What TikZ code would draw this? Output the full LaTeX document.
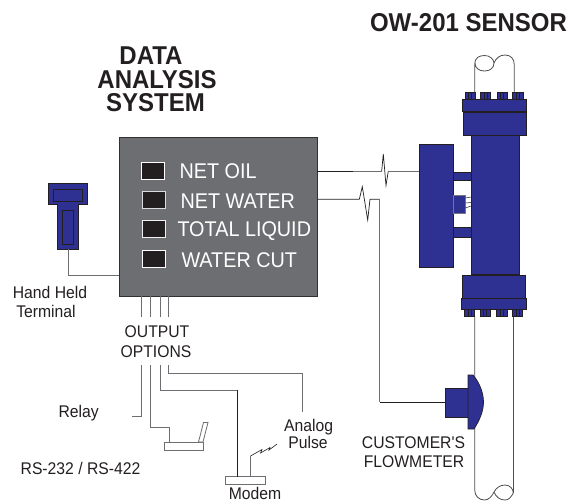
\documentclass[tikz,border=0pt]{standalone}
\usepackage{fontspec}
\setmainfont{Liberation Sans}
\newfontfamily\narrowf[FakeStretch=0.93]{Liberation Sans}
\definecolor{sblue}{HTML}{2E3192}
\definecolor{sgray}{HTML}{6D6E71}
\definecolor{sdark}{HTML}{231F20}
\definecolor{sedge}{HTML}{77777F}
\newcommand{\bx}[6]{\node[#6,minimum width={(#4)-(#2)},minimum height={(#5)-(#3)}] (#1) at ({((#2)+(#4))/2},{((#3)+(#5))/2}) {};}
\newcommand{\bolt}[5]{\bx{#1}{#2}{#3}{#4}{#5}{bluebox}
 \draw[boltline] ({(#2)+((#4)-(#2))/3},#3) -- ({(#2)+((#4)-(#2))/3},#5) ({(#2)+2*((#4)-(#2))/3},#3) -- ({(#2)+2*((#4)-(#2))/3},#5);}
\tikzset{
 box/.style={rectangle,inner sep=0pt,outer sep=0pt,line width=0.7pt},
 bluebox/.style={box,draw=sdark,fill=sblue},
 grayedge/.style={box,draw=sedge,fill=sblue},
 whitebox/.style={box,draw=sgray,fill=white,line width=0.8pt},
 lamp/.style={box,draw=white,fill=sdark,line width=0.7pt},
 boltline/.style={sdark,line width=0.6pt},
 wire/.style={sdark,line width=0.7pt},
 gwire/.style={sgray,line width=0.9pt},
 pipe/.style={sdark!80!white,line width=0.8pt},
 lbl/.style={inner sep=0pt,outer sep=0pt,text=sdark,font=\narrowf\fontsize{16.9}{18}\selectfont},
 title/.style={inner sep=0pt,outer sep=0pt,text=sdark,font=\narrowf\fontsize{25.8}{26}\selectfont\bfseries},
 read/.style={inner sep=0pt,outer sep=0pt,anchor=west,text=white,font=\narrowf\fontsize{21.3}{22}\selectfont}
}
\begin{document}
\begin{tikzpicture}[x=1pt,y=-1pt]
\useasboundingbox (0,0) rectangle (572,501);
% titles
\node[title] (tsensor) at (468.5,23) {OW-201 SENSOR};
\node[title] (tdata) at (151,56) {DATA};
\node[title] (tana) at (157,79.5) {ANALYSIS};
\node[title] (tsys) at (155.5,103) {SYSTEM};
% analysis box
\bx{unit}{119}{137}{317}{296}{box,draw=sdark!80!sgray,fill=sgray}
\bx{l1}{141.5}{162.5}{164.5}{179.5}{lamp}
\bx{l2}{142}{191}{165}{208}{lamp,draw=white!75!sgray}
\bx{l3}{142}{220.5}{165.5}{237}{lamp,draw=white!90!sgray}
\bx{l4}{142.5}{250}{165.5}{267}{lamp}
\node[read] (r1) at (179.5,171) {NET OIL};
\node[read] (r2) at (180.5,201) {NET WATER};
\node[read] (r3) at (177.5,231) {TOTAL LIQUID};
\node[read] (r4) at (181.5,260.5) {WATER CUT};
% terminal
\bx{thead}{48}{183.5}{87.5}{204}{bluebox}
\bx{tstem}{57.5}{204}{78.5}{249}{bluebox}
\fill[sblue] (58,202) rectangle (78,206);
\bx{tin1}{53.5}{189.5}{82.5}{201}{bluebox}
\bx{tin2}{62.5}{210}{73.5}{244}{bluebox}
\draw[gwire] (tstem.south) |- (unit.west |- 0,275);
\node[lbl] (hh1) at (50,292) {Hand Held};
\node[lbl] (hh2) at (46,311) {Terminal};
% output options
\node[lbl] (oo1) at (157,332) {OUTPUT};
\node[lbl] (oo2) at (156,352) {OPTIONS};
\foreach \n/\xx in {a/141.2,b/150,c/160,d/168}{
  \coordinate (o\n) at (\xx,317);
  \draw[gwire] (unit.south -| o\n) -- (o\n);
  \coordinate (p\n) at (\xx,365);
}
\coordinate (relayend) at (132,416);
\draw[gwire] (pa) |- (relayend);
\node[lbl] (relay) at (78.7,413.5) {Relay};
\bx{phone}{164.5}{442}{203}{450}{whitebox}
\draw[whitebox] (198.5,442) -- (203.5,422.5) -- (208,422.5) -- (203,442) -- cycle;
\coordinate (pb2) at (169.5,427);
\draw[gwire] (pb) |- (pb2) -- (pb2 |- phone.north);
\node[lbl] (rs) at (80.5,468) {RS-232 / RS-422};
\bx{modem}{225}{476.5}{265}{484}{whitebox}
\coordinate (pc2) at (237.5,390);
\draw[gwire] (pc) |- (pc2);
\draw[wire] (pc2) -- (pc2 |- modem.north);
\coordinate (pd2) at (302,373);
\coordinate (pd3) at (302,412);
\draw[gwire] (pd) |- (pd2) -- (pd3);
\coordinate (ant) at (250.5,456);
\draw[gwire] (ant |- modem.north) -- (ant);
\draw[sdark,line width=0.6pt] (ant) -- (262,449.5) -- (260.5,453) -- (270,447.5) -- (269,450) -- (277,444);
\node[lbl] (an) at (308.6,427.5) {Analog};
\node[lbl] (pu) at (308,442) {Pulse};
\node[lbl] (mo) at (255,493) {Modem};
\node[lbl] (cu) at (413.5,442.5) {CUSTOMER'S};
\node[lbl] (fl) at (414,461.5) {FLOWMETER};
% pipe
\draw[pipe] (474.7,92) -- (474.7,64)
  .. controls (474.7,58) and (479,55.5) .. (484.5,55.5)
  .. controls (490,55.5) and (493.5,59) .. (494,63)
  .. controls (494,68) and (490,71) .. (484.5,71)
  .. controls (479,71) and (475,68) .. (475,63);
\draw[pipe] (494,63) .. controls (496,58) and (500,55) .. (505,55)
  .. controls (511,55) and (514.3,59) .. (514.3,65) -- (514.3,92);
\draw[pipe] (474.7,316) -- (474.7,490)
  .. controls (474.7,496) and (479,500) .. (484.5,500)
  .. controls (489,500) and (492,496) .. (494,492)
  .. controls (496,488) and (500,485) .. (505,485)
  .. controls (510,485) and (513.3,489) .. (513.3,493)
  .. controls (511,497) and (509,500) .. (505,500)
  .. controls (500,500) and (496,497) .. (494,492);
\draw[pipe] (513.3,316) -- (513.3,493);
% sensor body
\bx{body}{471}{135}{519}{274}{bluebox}
\bx{collarT}{463}{112}{526}{135}{bluebox}
\bx{flangeT}{462.5}{99}{526}{111.5}{bluebox}
\bolt{bt1}{465}{92.5}{475}{99}
\bolt{bt2}{480.5}{92.5}{490.5}{99}
\bolt{bt3}{497}{92.5}{507}{99}
\bolt{bt4}{512.5}{92}{523}{99}
\bx{collarB}{462.5}{275}{525.5}{298}{bluebox}
\bx{flangeB}{461.5}{298}{526}{309}{bluebox}
\bolt{bb1}{464.5}{309}{474.5}{316}
\bolt{bb2}{480}{309}{490}{316.5}
\bolt{bb3}{496.5}{309}{507}{316}
\bolt{bb4}{512.5}{309}{522.5}{316.5}
% transmitter box and links
\bx{tx}{419}{144}{453.7}{267}{bluebox}
\bx{lk1}{453.7}{172}{471}{180}{bluebox}
\bx{lk2}{453.7}{195.5}{465.5}{213.5}{grayedge}
\bx{lk3}{453.7}{227}{471}{237}{bluebox}
\draw[sdark,line width=0.5pt] (lk2.east |- 0,198) -- (body.west |- 0,197)
  (lk2.east |- 0,203) -- (body.west |- 0,202.5)
  (lk2.east |- 0,208) -- (body.west |- 0,206);
% signal lines
\coordinate (s1a) at (353,171);
\draw[wire] (unit.east |- s1a) -- (s1a);
\draw[gwire] (s1a) -- (381.7,171);
\draw[wire] (381.7,171) -- (383.3,154) -- (386,185.5) -- (388.3,171);
\draw[gwire] (388.3,171) -- (tx.west |- s1a);
\coordinate (s2a) at (359.3,199.3);
\coordinate (s2b) at (370,199.3);
\coordinate (s2c) at (379.5,199.3);
\bx{meterS}{445}{388}{468.5}{417}{bluebox}
\draw[wire] (unit.east |- s2a) -- (s2a) -- (362.3,186.7) -- (367.7,220) -- (s2b) -- (s2c);
\draw[gwire] (s2c) -- (s2c |- 0,402);
\draw[wire] (s2c |- 0,402) -- (meterS.west |- 0,402);
\draw[sdark,line width=0.7pt,fill=sblue] (468,375) -- (468,429) -- (474,429)
  .. controls (479,421) and (483.5,412) .. (483.5,402)
  .. controls (483.5,392) and (479,382) .. (473,375) -- cycle;
\end{tikzpicture}
\end{document}
